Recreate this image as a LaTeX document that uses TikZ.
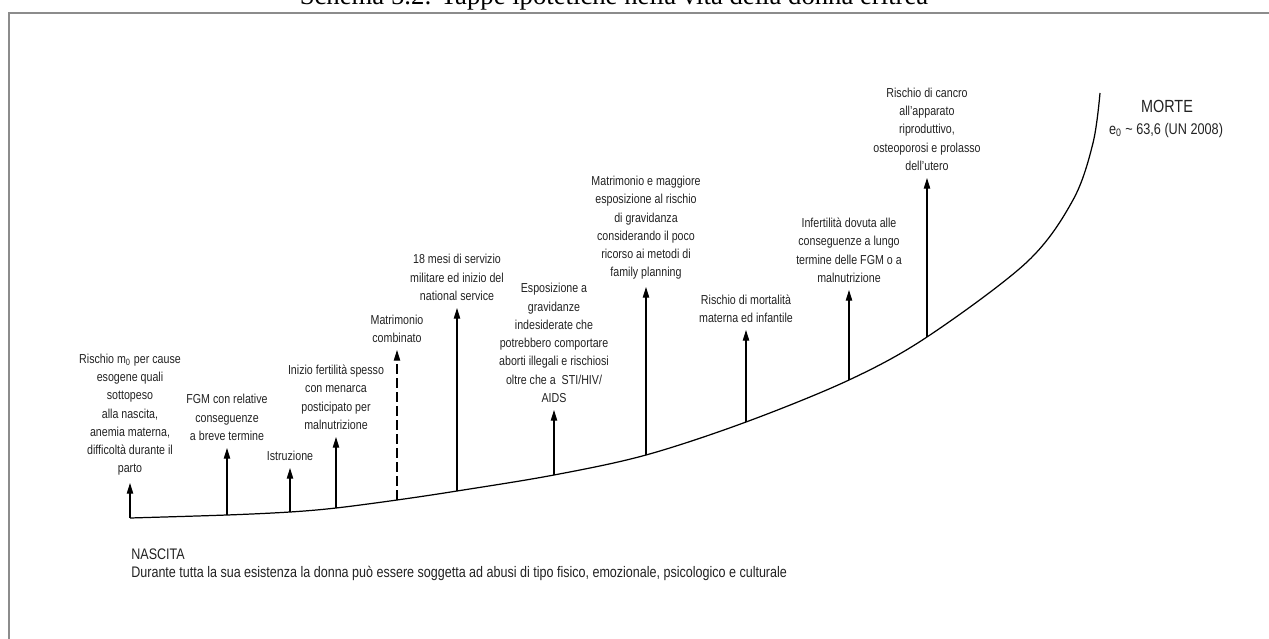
\documentclass[tikz,border=0pt]{standalone}
\usepackage{fontspec}
\setmainfont[FakeStretch=0.82]{Liberation Sans}
\newfontfamily\captionserif{Liberation Serif}
\usepackage{xcolor}
\usepackage{tikz}
\usetikzlibrary{positioning, arrows.meta}
\definecolor{frameGray}{HTML}{8C8C8C}
\definecolor{inkText}{HTML}{222222}

\begin{document}
\begin{tikzpicture}[x=0.02cm, y=-0.02cm, font=\fontsize{7.4}{10.4}\selectfont,
  lbl/.style={align=center, anchor=south, inner sep=4pt, text=inkText},
  riser/.style={-{Triangle[length=6pt, width=3.6pt]}, line width=0.6pt},
  life/.style={line width=0.7pt},
  frame/.style={draw=frameGray, line width=1.3pt}]
  \useasboundingbox (0,0) rectangle (1269,639);
  % page frame and caption (cut by the top edge)
  \draw[frame] (9,13) rectangle (1320,680);
  \node[font=\captionserif\fontsize{15.2}{17}\selectfont, anchor=base] (title) at (614,5)
    {Schema 5.2: Tappe ipotetiche nella vita della donna eritrea};
  % bases of the risers on the life curve
  \coordinate (b1) at (130,518);
  \coordinate (b2) at (227,515);
  \coordinate (b3) at (290,512);
  \coordinate (b4) at (336,508);
  \coordinate (b5) at (397,500);
  \coordinate (b6) at (457,491);
  \coordinate (b7) at (554,475);
  \coordinate (b8) at (646,455);
  \coordinate (b9) at (746,422);
  \coordinate (b10) at (849,380);
  \coordinate (b11) at (927,337);
  \coordinate (death) at (1100,93);
  \draw[life] plot[smooth, tension=0.55] coordinates {(b1) (b2) (b3) (b4) (b5) (b6)
    (b7) (b8) (b9) (b10) (b11) (1027,262) (1073,200) (1093,143) (death)};
  % events along the way
  \node[lbl] (l1) at (130,483) {Rischio m\textsubscript{0} per cause\\esogene quali\\sottopeso\\alla nascita,\\anemia materna,\\difficolt\`a durante il\\parto};
  \node[lbl] (l2) at (227,448) {FGM con relative\\conseguenze\\a breve termine};
  \node[lbl] (l3) at (290,468) {Istruzione};
  \node[lbl] (l4) at (336,437) {Inizio fertilit\`a spesso\\con menarca\\posticipato per\\malnutrizione};
  \node[lbl] (l5) at (397,350) {Matrimonio\\combinato};
  \node[lbl] (l6) at (457,308) {18 mesi di servizio\\militare ed inizio del\\national service};
  \node[lbl] (l7) at (554,410) {Esposizione a\\gravidanze\\indesiderate che\\potrebbero comportare\\aborti illegali e rischiosi\\oltre che a \ STI/HIV/\\AIDS};
  \node[lbl] (l8) at (646,287) {Matrimonio e maggiore\\esposizione al rischio\\di gravidanza\\considerando il poco\\ricorso ai metodi di\\family planning};
  \node[lbl] (l9) at (746,330) {Rischio di mortalit\`a\\materna ed infantile};
  \node[lbl] (l10) at (849,290) {Infertilit\`a dovuta alle\\conseguenze a lungo\\termine delle FGM o a\\malnutrizione};
  \node[lbl] (l11) at (927,178) {Rischio di cancro\\all'apparato\\riproduttivo,\\osteoporosi e prolasso\\dell'utero};
  \draw[riser] (b1) -- (l1.south);
  \draw[riser] (b2) -- (l2.south);
  \draw[riser] (b3) -- (l3.south);
  \draw[riser] (b4) -- (l4.south);
  \draw[riser, dash pattern=on 5.5pt off 2.5pt] (b5) -- (l5.south);
  \draw[riser] (b6) -- (l6.south);
  \draw[riser] (b7) -- (l7.south);
  \draw[riser] (b8) -- (l8.south);
  \draw[riser] (b9) -- (l9.south);
  \draw[riser] (b10) -- (l10.south);
  \draw[riser] (b11) -- (l11.south);
  % the two ends
  \node[text=inkText, font=\fontsize{10}{12}\selectfont] (morte) at (1167,106) {MORTE};
  \node[text=inkText, font=\fontsize{8.8}{10}\selectfont] (speranza) at (1166,130) {e\textsubscript{0} \textasciitilde{} 63,6 (UN 2008)};
  \node[text=inkText, font=\fontsize{8.7}{10}\selectfont, anchor=west, inner sep=0pt] (nascita) at (131,554) {NASCITA};
  \node[text=inkText, font=\fontsize{8.7}{10}\selectfont, anchor=west, inner sep=0pt] (abusi) at (131,573) {Durante tutta la sua esistenza la donna pu\`o essere soggetta ad abusi di tipo fisico, emozionale, psicologico e culturale};
\end{tikzpicture}
\end{document}
